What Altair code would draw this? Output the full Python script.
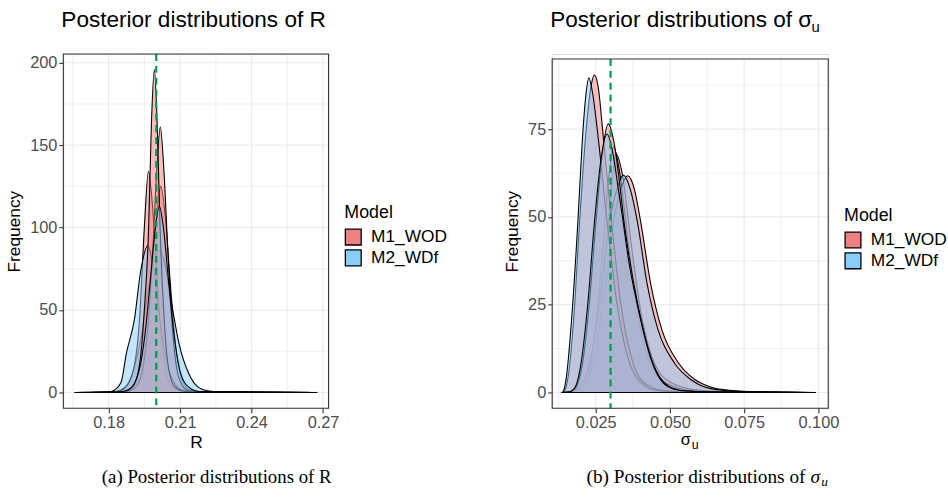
import altair as alt
import pandas as pd

# ---------------- data ----------------
MODELS = ["M1_WOD", "M2_WDf"]
FILLS = ["#F08080", "#87CEFA"]
GREEN = "#009B4E"

# Panel (a): posterior densities of R (drawing order)
R_TRUE = [0.20]
R_XTICKS = [0.18, 0.21, 0.24, 0.27]
R_XMINOR = [0.165, 0.195, 0.225, 0.255]
R_YTICKS = [0, 50, 100, 150, 200]
R_YMINOR = [25, 75, 125, 175]

r1_x = [0.166, 0.186, 0.190, 0.193, 0.196, 0.198, 0.2002, 0.2019, 0.2037, 0.2058, 0.2080, 0.2105, 0.2140, 0.2220, 0.2673]
r1_y = [0, 0.3, 2.5, 10, 35, 70, 108, 125, 108, 68, 30, 9, 1.5, 0.2, 0]
r2_x = [0.166, 0.181, 0.185, 0.188, 0.1905, 0.1935, 0.1962, 0.1988, 0.2012, 0.2036, 0.2062, 0.2095, 0.2135, 0.2170, 0.2215, 0.2280, 0.2673]
r2_y = [0, 0.2, 1.5, 5, 14, 32, 58, 78, 86, 78, 56, 30, 12, 4, 1, 0.2, 0]
r3_x = [0.166, 0.183, 0.187, 0.1905, 0.193, 0.195, 0.1967, 0.1985, 0.2003, 0.2022, 0.2045, 0.2070, 0.2110, 0.2200, 0.2673]
r3_y = [0, 0.3, 3, 14, 45, 100, 134, 112, 70, 32, 10, 2.5, 0.5, 0.1, 0]
r4_x = [0.166, 0.180, 0.1825, 0.1852, 0.1875, 0.1908, 0.1935, 0.1964, 0.1992, 0.2015, 0.2042, 0.2075, 0.2110, 0.2180, 0.2673]
r4_y = [0, 0.2, 1.5, 6, 24, 44, 74, 89, 72, 44, 20, 6, 1.5, 0.2, 0]
r5_x = [0.166, 0.187, 0.191, 0.194, 0.1965, 0.1985, 0.2002, 0.2017, 0.2032, 0.2050, 0.2070, 0.2095, 0.2130, 0.2200, 0.2673]
r5_y = [0, 0.3, 2.5, 12, 40, 85, 135, 161, 135, 82, 35, 9, 1.5, 0.2, 0]
r6_x = [0.166, 0.186, 0.190, 0.193, 0.195, 0.1968, 0.1979, 0.1992, 0.2004, 0.2016, 0.2035, 0.2055, 0.2080, 0.2120, 0.2200, 0.2673]
r6_y = [0, 0.3, 3, 17, 50, 100, 160, 196, 162, 100, 40, 12, 3, 0.6, 0.1, 0]
r7_x = [0.166, 0.184, 0.188, 0.191, 0.1935, 0.1955, 0.1975, 0.1995, 0.2013, 0.2030, 0.2050, 0.2072, 0.2098, 0.2130, 0.2180, 0.2673]
r7_y = [0, 0.2, 1.5, 6, 18, 38, 68, 98, 113, 100, 70, 38, 14, 4, 0.6, 0]

R_CURVES = [
    ("M1_WOD", r1_x, r1_y), ("M2_WDf", r2_x, r2_y),
    ("M1_WOD", r3_x, r3_y), ("M2_WDf", r4_x, r4_y),
    ("M1_WOD", r5_x, r5_y), ("M1_WOD", r6_x, r6_y),
    ("M2_WDf", r7_x, r7_y),
]

# Panel (b): posterior densities of sigma_u (drawing order)
S_TRUE = [0.03]
S_XTICKS = [0.025, 0.05, 0.075, 0.1]
S_XMINOR = [0.0125, 0.0375, 0.0625, 0.0875]
S_YTICKS = [0, 25, 50, 75]
S_YMINOR = [12.5, 37.5, 62.5, 87.5]

s1_x = [0.0137, 0.0200, 0.0230, 0.0260, 0.0280, 0.0300, 0.0318, 0.0340, 0.0370, 0.0400, 0.0440, 0.0500, 0.0600, 0.0750, 0.0990]
s1_y = [0, 0.5, 4, 17, 35, 56, 68, 62, 42, 24, 10, 3, 0.6, 0.1, 0]
s2_x = [0.0137, 0.0190, 0.0220, 0.0250, 0.0270, 0.0290, 0.0310, 0.0330, 0.0360, 0.0390, 0.0430, 0.0490, 0.0580, 0.0720, 0.0990]
s2_y = [0, 0.5, 4, 18, 37, 58, 70, 63, 42, 23, 9, 2.5, 0.5, 0.1, 0]
s3_x = [0.0137, 0.0180, 0.0205, 0.0230, 0.0252, 0.0275, 0.0310, 0.0335, 0.0357, 0.0380, 0.0401, 0.0435, 0.0473, 0.0529, 0.0584, 0.0629, 0.0700, 0.0800, 0.0990]
s3_y = [0, 0.3, 1.5, 5, 13, 25, 48.8, 58, 61.7, 58, 48.8, 31, 17.8, 8.4, 3.7, 1.8, 0.6, 0.15, 0]
s4_x = [0.0137, 0.0170, 0.0195, 0.0218, 0.0240, 0.0262, 0.0297, 0.0322, 0.0343, 0.0366, 0.0390, 0.0423, 0.0460, 0.0515, 0.0570, 0.0610, 0.0680, 0.0780, 0.0990]
s4_y = [0, 0.3, 1.5, 5, 13, 25, 48.8, 58, 61.9, 58, 48.8, 31, 17.8, 8.4, 3.7, 1.8, 0.6, 0.15, 0]
s5_x = [0.0137, 0.0145, 0.0158, 0.0175, 0.0196, 0.0215, 0.0232, 0.02455, 0.0260, 0.0273, 0.0303, 0.0335, 0.0370, 0.0410, 0.0480, 0.0600, 0.0990]
s5_y = [0, 0.5, 5, 20, 48.8, 72, 86, 90.4, 86, 75, 48.8, 25, 10, 3, 0.5, 0.1, 0]
s6_x = [0.0137, 0.0142, 0.0152, 0.0168, 0.0190, 0.0205, 0.0216, 0.02267, 0.0240, 0.0255, 0.0288, 0.0322, 0.0358, 0.0400, 0.0460, 0.0580, 0.0990]
s6_y = [0, 0.5, 5, 20, 48.8, 72, 84, 89.6, 85, 75, 48.8, 25, 10, 3, 0.5, 0.1, 0]
s7_x = [0.0137, 0.0160, 0.0180, 0.0205, 0.0228, 0.0251, 0.0272, 0.02922, 0.0312, 0.0330, 0.0345, 0.0362, 0.0392, 0.0440, 0.0496, 0.0550, 0.0700, 0.0990]
s7_y = [0, 0.1, 1, 8, 25, 48.8, 68, 76.5, 71, 60, 48.8, 39, 25, 9, 1.8, 0.5, 0.05, 0]
s8_x = [0.0137, 0.0158, 0.0177, 0.0200, 0.0223, 0.0246, 0.0267, 0.02878, 0.0308, 0.0326, 0.0342, 0.0360, 0.0390, 0.0438, 0.0490, 0.0540, 0.0680, 0.0990]
s8_y = [0, 0.1, 1, 8, 25, 48.8, 66, 73.6, 68, 58, 48.8, 38, 25, 9, 1.8, 0.5, 0.05, 0]

S_CURVES = [
    ("M1_WOD", s1_x, s1_y), ("M2_WDf", s2_x, s2_y),
    ("M1_WOD", s3_x, s3_y), ("M2_WDf", s4_x, s4_y),
    ("M1_WOD", s5_x, s5_y), ("M2_WDf", s6_x, s6_y),
    ("M1_WOD", s7_x, s7_y), ("M2_WDf", s8_x, s8_y),
]

# ---------------- styling ----------------
FONT = "Liberation Sans"
SERIF = "Liberation Serif"


def make_axis(**kw):
    base = dict(labelFont=FONT, labelFontSize=16.5, labelColor="#4D4D4D",
                tickColor="#333333", tickSize=4.5, tickWidth=1.1, labelPadding=2,
                domain=False, grid=False, titleFont=FONT, titleFontSize=17.5,
                titleFontWeight="normal", titleColor="black")
    base.update(kw)
    return alt.Axis(**base)


def panel(curves, truth, xdom, ydom, W, H, top, xt, xm, yt, ym, xfmt,
          xtitle, legend_xy, texts):
    if xtitle:
        xaxis = make_axis(values=xt, format=xfmt, title=xtitle, titlePadding=3)
    else:
        xaxis = make_axis(values=xt, format=xfmt, title=None)
    yaxis = make_axis(values=yt, title="Frequency", titlePadding=6)
    xsc = alt.Scale(domain=xdom, nice=False, zero=False)
    ysc = alt.Scale(domain=ydom, nice=False, zero=False)

    def X(f):
        return alt.X(f"{f}:Q", scale=xsc, axis=xaxis)

    def Y(f):
        return alt.Y(f"{f}:Q", scale=ysc, axis=yaxis, stack=False)

    layers = []
    for vals, w in ((xm, 0.8), (xt, 1.2)):
        layers.append(alt.Chart(pd.DataFrame({"v": vals})).mark_rule(
            color="#EBEBEB", strokeWidth=w).encode(
            x=X("v"), y=alt.value(top), y2=alt.value(H)))
    for vals, w in ((ym, 0.8), (yt, 1.2)):
        layers.append(alt.Chart(pd.DataFrame({"v": vals})).mark_rule(
            color="#EBEBEB", strokeWidth=w).encode(
            y=Y("v"), x=alt.value(0), x2=alt.value(W)))

    fill = alt.Fill("model:N", scale=alt.Scale(domain=MODELS, range=FILLS),
                    legend=alt.Legend(
                        title="Model", orient="none",
                        legendX=legend_xy[0], legendY=legend_xy[1],
                        titleFont=FONT, titleFontSize=18, titleFontWeight="normal",
                        titleColor="black", titlePadding=6,
                        labelFont=FONT, labelFontSize=17.5, labelColor="black",
                        labelOffset=9, symbolType="square", symbolSize=256,
                        symbolStrokeColor="black", symbolStrokeWidth=1.3,
                        symbolOpacity=1, rowPadding=-1, padding=0))
    for model, cx, cy in curves:
        df = pd.DataFrame({"x": cx, "y": cy, "model": model})
        layers.append(alt.Chart(df).mark_area(
            interpolate="monotone", fillOpacity=0.5, stroke="black",
            strokeWidth=1.1, strokeJoin="round").encode(
            x=X("x"), y=Y("y"), fill=fill))

    layers.append(alt.Chart(pd.DataFrame({"v": truth})).mark_rule(
        color=GREEN, strokeWidth=2.2, strokeDash=[7, 5]).encode(
        x=X("v"), y=alt.value(top), y2=alt.value(H)))

    layers.append(alt.Chart(pd.DataFrame({"a": [0]})).mark_rect(
        fillOpacity=0, stroke="#333333", strokeWidth=1.1).encode(
        x=alt.value(0), x2=alt.value(W), y=alt.value(top), y2=alt.value(H)))

    for t in texts:
        layers.append(alt.Chart(pd.DataFrame({"t": [t["text"]]})).mark_text(
            align=t.get("align", "left"), baseline="alphabetic",
            font=t.get("font", FONT), fontSize=t["size"],
            fontStyle=t.get("style", "normal"), color="black").encode(
            text="t:N", x=alt.value(t["x"]), y=alt.value(t["y"])))

    return alt.layer(*layers).properties(width=W, height=H)


left = panel(
    R_CURVES, R_TRUE, [0.161, 0.2723], [-9.6, 205.3], 268, 358, 0,
    R_XTICKS, R_XMINOR, R_YTICKS, R_YMINOR, ".2f", "R", (284, 152),
    [
        {"text": "Posterior distributions of R", "x": -2, "y": -27, "size": 22.8},
        {"text": "(a) Posterior distributions of R", "x": 155, "y": 433,
         "size": 19, "font": SERIF, "align": "center"},
    ])

right = panel(
    S_CURVES, S_TRUE, [0.01033, 0.10333], [-4.51, 96.39], 279, 358, 5,
    S_XTICKS, S_XMINOR, S_YTICKS, S_YMINOR, ".3f", None, (295, 155),
    [
        {"text": "Posterior distributions of σ", "x": -2, "y": -27, "size": 22.8},
        {"text": "u", "x": 262, "y": -22, "size": 15},
        {"text": "σ", "x": 140, "y": 395.5, "size": 16.5, "align": "right"},
        {"text": "u", "x": 141, "y": 399, "size": 12.5},
        {"text": "(b) Posterior distributions of", "x": 256, "y": 433,
         "size": 19.5, "font": SERIF, "align": "right"},
        {"text": "σ", "x": 261, "y": 433, "size": 19.5, "font": SERIF, "style": "italic"},
        {"text": "u", "x": 272, "y": 437, "size": 13.5, "font": SERIF, "style": "italic"},
    ])

chart = alt.hconcat(left, right, spacing=55).resolve_scale(
    x="independent", y="independent", fill="independent"
).resolve_legend(fill="independent").properties(
    padding={"left": 5, "top": 6, "right": 0, "bottom": 0},
    background="white",
).configure_view(stroke=None).configure(font=FONT)

chart.save("out.html", embed_options={"renderer": "svg", "actions": False})
